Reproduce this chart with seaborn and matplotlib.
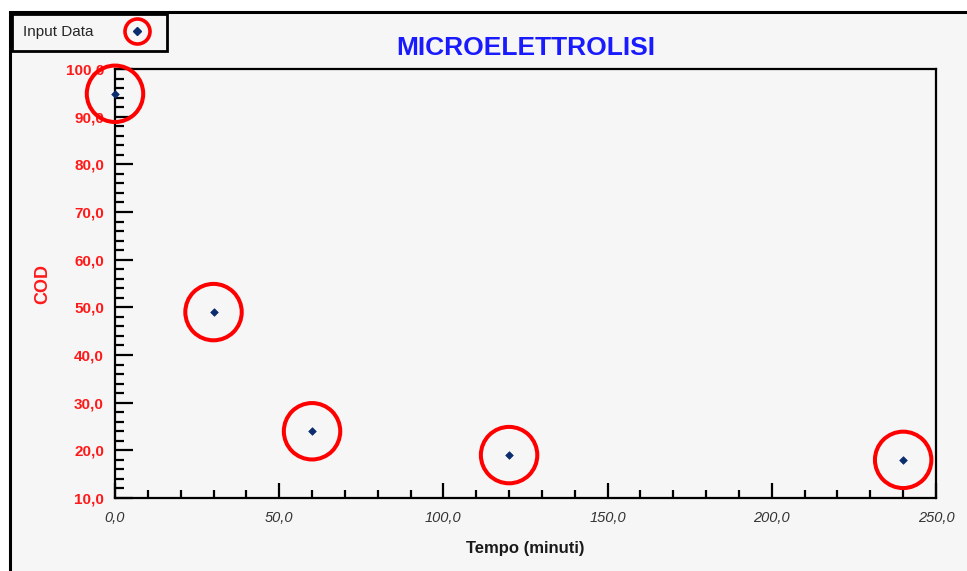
import matplotlib
matplotlib.use("Agg")
import matplotlib.pyplot as plt
import seaborn as sns
import pandas as pd
from matplotlib.ticker import MultipleLocator, FuncFormatter
from matplotlib.patches import Rectangle
from matplotlib.lines import Line2D
from matplotlib.legend_handler import HandlerTuple

tempo = [0, 30, 60, 120, 240]
cod = [94.8, 49.0, 24.0, 19.0, 18.0]
title = "MICROELETTROLISI"
xlabel = "Tempo (minuti)"
ylabel = "COD"
legend_label = "Input Data"

df = pd.DataFrame({"Tempo": tempo, "COD": cod})

sns.set_style("white")
plt.rcParams['font.family'] = ['Liberation Sans', 'DejaVu Sans']

W, H = 967, 571
fig = plt.figure(figsize=(W / 100, H / 100), dpi=100, facecolor="white")
bg = "#f6f6f6"
frame = Rectangle((10 / W, -0.01), 1.02, 1 - 12 / H + 0.01, transform=fig.transFigure,
                  facecolor=bg, edgecolor="black", linewidth=2.2, zorder=-10)
fig.add_artist(frame)

ax = fig.add_axes([115 / W, 1 - 498 / H, (936 - 115) / W, (498 - 69) / H])
ax.set_zorder(1)
ax.set_facecolor(bg)

sns.scatterplot(data=df, x="Tempo", y="COD", ax=ax, s=1650, marker="o",
                facecolors="none", edgecolors="#ff0000", linewidth=2.9, legend=False, zorder=3,
                clip_on=False)
sns.scatterplot(data=df, x="Tempo", y="COD", ax=ax, s=15, marker="D",
                color="#0a2d6e", edgecolor="#0a2d6e", linewidth=0.5, legend=False, zorder=4,
                clip_on=False)

ax.set_xlim(0, 250)
ax.set_ylim(10, 100)
ax.xaxis.set_major_locator(MultipleLocator(50))
ax.xaxis.set_minor_locator(MultipleLocator(10))
ax.yaxis.set_major_locator(MultipleLocator(10))
ax.yaxis.set_minor_locator(MultipleLocator(2))
fmt = FuncFormatter(lambda v, p: f"{v:.1f}".replace(".", ","))
ax.xaxis.set_major_formatter(fmt)
ax.yaxis.set_major_formatter(fmt)

for s in ax.spines.values():
    s.set_color("black")
    s.set_linewidth(1.6)
    s.set_visible(True)

ax.tick_params(axis="y", which="major", direction="in", length=13, width=1.6, color="black",
               left=True, right=False, labelcolor="#ff1a1a", labelsize=11, pad=8)
ax.tick_params(axis="y", which="minor", direction="in", length=6.5, width=1.6, color="black", left=True, right=False)
ax.tick_params(axis="x", which="major", direction="in", length=11, width=1.6, color="black",
               bottom=True, top=False, labelcolor="#333333", labelsize=10.5, pad=9)
ax.tick_params(axis="x", which="minor", direction="in", length=5.5, width=1.6, color="black", bottom=True, top=False)
for lbl in ax.get_yticklabels():
    lbl.set_fontweight("bold")
for lbl in ax.get_xticklabels():
    lbl.set_fontstyle("italic")

ax.set_xlabel(xlabel, fontsize=12, fontweight="bold", color="#1a1a1a", labelpad=12)
ax.set_ylabel(ylabel, fontsize=13, fontweight="bold", color="#ff1a1a", labelpad=10)
ax.set_title(title, fontsize=19, fontweight="bold", color="#1a1aff", pad=10)

h_circle = Line2D([], [], marker="o", linestyle="none", markersize=18, markerfacecolor="none",
                  markeredgecolor="#ff0000", markeredgewidth=2.6)
h_diam = Line2D([], [], marker="D", linestyle="none", markersize=4, color="#0a2d6e")
leg = fig.legend([(h_circle, h_diam)], [legend_label], handler_map={tuple: HandlerTuple(ndivide=1)},
                 loc="upper left", bbox_to_anchor=(12 / W, 1 - 14 / H), markerfirst=False,
                 fancybox=False, framealpha=1, facecolor=bg, edgecolor="black",
                 fontsize=11, borderpad=0.75, handlelength=2.33, handletextpad=1.67, borderaxespad=0)
leg.get_frame().set_linewidth(2)
leg.set_zorder(5)

fig.savefig("out.png", dpi=100, facecolor="white")
